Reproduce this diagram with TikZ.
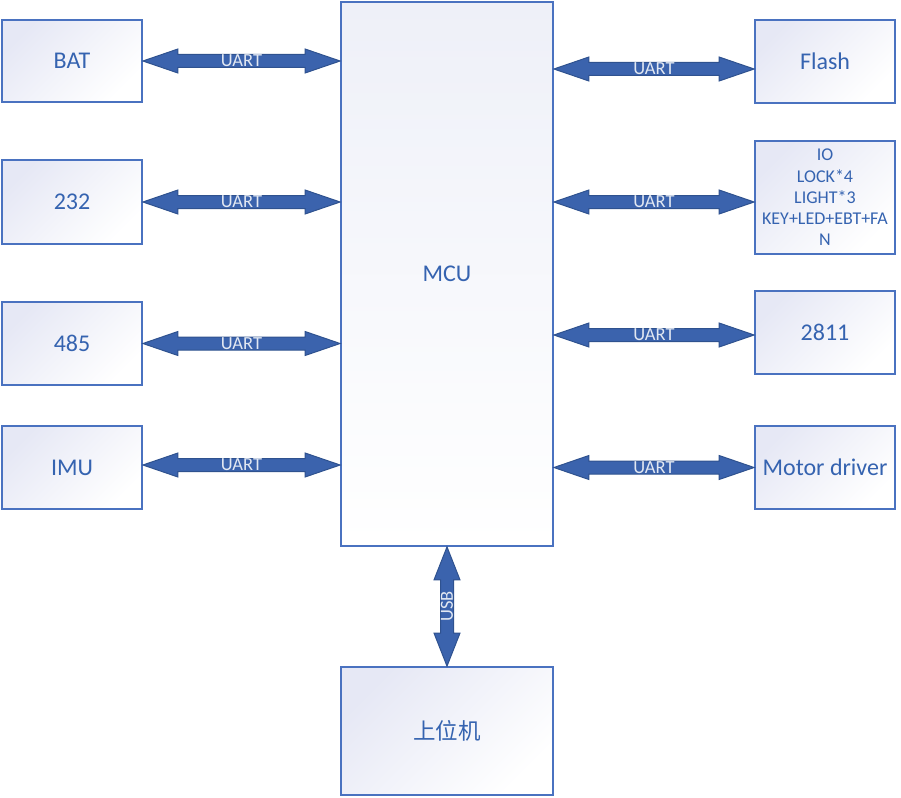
\documentclass[tikz,border=0pt]{standalone}
\usepackage{fontspec}
\setmainfont{Carlito}
\newfontfamily\cjk{Noto Sans CJK SC}
\usetikzlibrary{calc}
\definecolor{boxline}{HTML}{4A72C0}
\definecolor{boxlav}{HTML}{E6E8F5}
\definecolor{mculav}{HTML}{EEF0F8}
\definecolor{txt}{HTML}{3563B0}
\definecolor{arrfill}{HTML}{3B63AD}
\definecolor{arrline}{HTML}{2F528F}
\definecolor{arrtxt}{HTML}{E2E8F2}
\tikzset{
  box/.style={draw=boxline, line width=1.8pt, top color=boxlav, bottom color=white,
    shading angle=45, text=txt, font=\fontsize{24}{28}\selectfont, align=center,
    inner sep=0pt},
  arrowsty/.style={fill=arrfill, draw=arrline, line width=1pt, line join=miter},
  arrlabel/.style={text=arrtxt, font=\fontsize{18.5}{20}\selectfont, inner sep=0pt}
}
\newcommand\dblarrowH[3]{%
  \filldraw[arrowsty] let \p1=(#1), \p2=(#2) in
    (\x1,\y1) -- (\x1+35pt,\y1+12pt) -- (\x1+35pt,\y1+6.5pt) -- (\x2-35pt,\y1+6.5pt)
    -- (\x2-35pt,\y1+12pt) -- (\x2,\y1) -- (\x2-35pt,\y1-12pt) -- (\x2-35pt,\y1-6.5pt)
    -- (\x1+35pt,\y1-6.5pt) -- (\x1+35pt,\y1-12pt) -- cycle
    node[arrlabel] at ({(\x1+\x2)/2},\y1) {#3};}
\newcommand\dblarrowV[3]{%
  \filldraw[arrowsty] let \p1=(#1), \p2=(#2) in
    (\x1,\y1) -- (\x1+13pt,\y1-33pt) -- (\x1+6.5pt,\y1-33pt) -- (\x1+6.5pt,\y2+33pt)
    -- (\x1+13pt,\y2+33pt) -- (\x1,\y2) -- (\x1-13pt,\y2+33pt) -- (\x1-6.5pt,\y2+33pt)
    -- (\x1-6.5pt,\y1-33pt) -- (\x1-13pt,\y1-33pt) -- cycle
    node[arrlabel, rotate=90] at (\x1,{(\y1+\y2)/2}) {#3};}
\begin{document}
\begin{tikzpicture}[x=1pt,y=-1pt]
\useasboundingbox (0,0) rectangle (901,797);
% left column
\node[box, minimum width=140pt, minimum height=82pt] (bat) at (72,61) {BAT};
\node[box, minimum width=140pt, minimum height=84pt] (b232) at (72,202) {232};
\node[box, minimum width=140pt, minimum height=83pt] (b485) at (72,343.5) {485};
\node[box, minimum width=140pt, minimum height=83pt] (imu) at (72,467.5) {IMU};
% centre
\node[box, top color=mculav, minimum width=212pt, minimum height=544pt] (mcu) at (447,274) {};
\node[text=txt, font=\fontsize{24}{28}\selectfont] (mcul) at (447,274) {MCU};
\node[box, minimum width=212pt, minimum height=128pt, font=\cjk\fontsize{22.5}{26}\selectfont] (pc) at (447,731) {上位机};
% right column
\node[box, minimum width=140pt, minimum height=83pt] (flash) at (825,61.5) {Flash};
\node[box, minimum width=140pt, minimum height=113pt, font=\fontsize{18}{21.3}\selectfont] (io) at (825,197.5)
  {IO\\LOCK*4\\LIGHT*3\\KEY+LED+EBT+FA\\N};
\node[box, minimum width=140pt, minimum height=83pt] (b2811) at (825,332.5) {2811};
\node[box, minimum width=140pt, minimum height=83pt] (motor) at (825,467.5) {Motor driver};
% connection points
\coordinate (ia) at ([yshift=2.5pt]imu.east);
\coordinate (fa) at ([yshift=-7.5pt]flash.west);
\coordinate (ioa) at ([yshift=-4.5pt]io.west);
\coordinate (ta) at ([yshift=-2.5pt]b2811.west);
\coordinate (ma) at (motor.west);
% arrows
\dblarrowH{bat.east}{mcu.west |- bat.east}{UART}
\dblarrowH{b232.east}{mcu.west |- b232.east}{UART}
\dblarrowH{b485.east}{mcu.west |- b485.east}{UART}
\dblarrowH{ia}{mcu.west |- ia}{UART}
\dblarrowH{mcu.east |- fa}{fa}{UART}
\dblarrowH{mcu.east |- ioa}{ioa}{UART}
\dblarrowH{mcu.east |- ta}{ta}{UART}
\dblarrowH{mcu.east |- ma}{ma}{UART}
\dblarrowV{mcu.south}{pc.north}{USB}
\end{tikzpicture}
\end{document}
